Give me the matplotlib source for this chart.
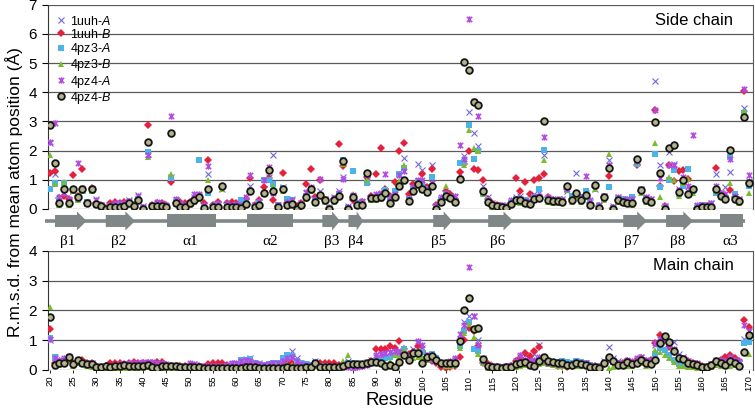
import numpy as np
import matplotlib.pyplot as plt
from matplotlib.path import Path
from matplotlib.patches import Polygon, Rectangle

plt.rcParams['font.family'] = ['Liberation Sans', 'DejaVu Sans']
plt.rcParams['mathtext.fontset'] = 'custom'
plt.rcParams['mathtext.rm'] = 'Liberation Sans'
plt.rcParams['mathtext.it'] = 'Liberation Sans:italic'

residues = np.arange(20, 171)

# ---- side chain r.m.s.d. (residues 20..170) ----
side_1uuh_A = [2.26, 1.20, 0.30, 0.55, 0.30, 0.60, 0.45, 0.65, 0.25, 0.70,
               0.35, 0.15, 0.05, 0.10, 0.12, 0.15, 0.20, 0.30, 0.15, 0.48,
               0.10, 1.90, 0.12, 0.15, 0.12, 0.10, 1.10, 0.30, 0.15, 0.10,
               0.22, 0.40, 0.45, 0.10, 1.20, 0.10, 0.15, 0.70, 0.15, 0.12,
               0.15, 0.10, 0.30, 0.80, 0.12, 0.25, 0.70, 1.10, 1.84, 0.15,
               0.75, 0.30, 0.35, 0.05, 0.20, 0.55, 0.70, 0.30, 0.60, 0.35,
               0.05, 0.40, 0.60, 1.10, 0.10, 0.45, 0.25, 0.25, 0.95, 0.40,
               0.45, 0.50, 0.60, 0.35, 0.55, 1.20, 1.76, 0.40, 0.80, 1.55,
               1.34, 0.80, 1.50, 0.10, 0.35, 0.55, 0.45, 0.40, 1.20, 1.80,
               3.32, 2.62, 2.15, 0.78, 0.40, 0.20, 0.15, 0.12, 0.10, 0.25,
               0.40, 0.45, 0.35, 0.30, 0.50, 0.55, 1.85, 0.35, 0.30, 0.35,
               0.35, 0.60, 0.40, 1.22, 0.35, 0.55, 0.25, 0.70, 0.15, 0.45,
               1.69, 0.10, 0.40, 0.35, 0.30, 0.35, 1.60, 0.70, 0.40, 0.35,
               4.40, 1.50, 0.10, 1.95, 1.54, 0.70, 0.90, 0.60, 0.70, 0.10,
               0.15, 0.12, 0.20, 1.20, 0.55, 0.74, 1.27, 0.40, 0.35, 3.45, 0.95]
side_1uuh_B = [1.22, 1.30, 0.36, 0.45, 0.35, 1.15, 0.45, 1.38, 0.20, 0.72,
               0.20, 0.12, 0.05, 0.20, 0.25, 0.20, 0.25, 0.25, 0.12, 0.35,
               0.05, 2.87, 0.15, 0.20, 0.20, 0.15, 0.93, 0.20, 0.25, 0.22,
               0.25, 0.35, 0.38, 0.20, 1.67, 0.15, 0.25, 0.75, 0.22, 0.25,
               0.20, 0.15, 0.35, 1.05, 0.15, 0.30, 0.75, 1.05, 0.30, 0.10,
               1.24, 0.20, 0.25, 0.10, 0.20, 0.85, 1.38, 0.40, 0.99, 0.30,
               0.05, 0.35, 2.24, 1.47, 0.05, 0.30, 0.20, 0.25, 1.10, 0.45,
               1.20, 2.10, 0.70, 0.45, 0.93, 2.00, 2.27, 0.50, 0.85, 0.90,
               1.19, 0.75, 1.38, 0.15, 0.30, 0.60, 0.50, 0.35, 1.27, 1.55,
               2.00, 1.38, 1.35, 1.00, 0.35, 0.20, 0.12, 0.10, 0.08, 0.20,
               1.07, 0.60, 0.93, 0.50, 0.99, 1.05, 1.20, 0.40, 0.30, 0.30,
               0.30, 0.70, 0.35, 0.50, 0.30, 0.45, 0.20, 0.75, 0.10, 0.40,
               1.12, 0.05, 0.30, 0.30, 0.25, 0.25, 1.50, 0.60, 0.35, 0.30,
               3.40, 0.80, 0.10, 1.50, 0.95, 1.30, 1.35, 1.04, 0.60, 0.05,
               0.10, 0.10, 0.15, 1.40, 0.50, 0.45, 0.65, 0.40, 0.30, 4.05, 0.90]
side_4pz3_A = [0.70, 0.90, 0.30, 0.88, 0.20, 0.62, 0.35, 0.62, 0.25, 0.62,
               0.15, 0.08, 0.02, 0.10, 0.10, 0.12, 0.15, 0.25, 0.18, 0.35,
               0.05, 1.95, 0.10, 0.12, 0.10, 0.10, 1.05, 0.25, 0.12, 0.10,
               0.20, 0.25, 1.67, 0.08, 0.55, 0.10, 0.12, 0.75, 0.10, 0.10,
               0.12, 0.30, 0.25, 0.60, 0.10, 0.20, 1.00, 1.00, 0.85, 0.12,
               0.72, 0.35, 0.32, 0.03, 0.15, 0.45, 0.65, 0.30, 0.45, 0.28,
               0.02, 0.32, 0.50, 1.67, 0.05, 1.30, 0.20, 0.18, 0.90, 0.30,
               0.38, 0.45, 0.65, 0.30, 0.60, 1.20, 1.39, 0.35, 0.70, 0.95,
               0.85, 0.70, 1.10, 0.05, 0.30, 0.50, 0.40, 0.30, 1.56, 1.60,
               2.87, 1.73, 2.00, 0.55, 0.30, 0.15, 0.10, 0.08, 0.06, 0.20,
               0.35, 0.25, 0.30, 0.25, 0.40, 0.70, 2.03, 0.35, 0.30, 0.30,
               0.30, 0.70, 0.45, 0.50, 0.40, 0.60, 0.20, 0.80, 0.10, 0.35,
               0.75, 0.05, 0.35, 0.35, 0.30, 0.40, 1.55, 0.65, 0.35, 0.30,
               1.90, 0.75, 0.05, 1.00, 1.33, 0.50, 0.80, 1.38, 0.60, 0.05,
               0.12, 0.10, 0.15, 0.55, 0.50, 0.40, 1.78, 0.50, 0.25, 3.30, 0.80]
side_4pz3_B = [1.84, 0.85, 0.15, 0.92, 0.15, 0.60, 0.30, 0.60, 0.18, 0.60,
               0.12, 0.05, 0.02, 0.05, 0.05, 0.08, 0.10, 0.20, 0.08, 0.28,
               0.02, 1.78, 0.08, 0.08, 0.08, 0.05, 1.20, 0.18, 0.06, 0.06,
               0.15, 0.25, 0.35, 0.05, 0.99, 0.05, 0.06, 0.70, 0.05, 0.06,
               0.05, 0.05, 0.12, 0.65, 0.05, 0.10, 0.50, 1.40, 0.78, 0.06,
               0.60, 0.10, 0.12, 0.02, 0.10, 0.35, 0.60, 0.20, 0.45, 0.25,
               0.01, 0.25, 0.40, 1.55, 0.02, 0.50, 0.10, 0.12, 1.00, 0.30,
               0.30, 0.35, 0.50, 0.20, 0.45, 0.95, 1.50, 0.25, 0.60, 0.80,
               0.65, 0.55, 0.80, 0.10, 0.25, 0.80, 0.35, 0.20, 1.00, 1.50,
               2.72, 2.10, 2.00, 0.50, 0.20, 0.08, 0.05, 0.04, 0.03, 0.12,
               0.25, 0.20, 0.18, 0.15, 0.30, 0.35, 1.67, 0.25, 0.22, 0.20,
               0.20, 0.65, 0.25, 0.45, 0.25, 0.40, 0.12, 0.70, 0.05, 0.30,
               1.89, 0.02, 0.25, 0.20, 0.18, 0.15, 1.60, 0.55, 0.25, 0.20,
               2.27, 0.40, 0.02, 1.10, 1.00, 0.45, 0.90, 1.03, 0.55, 0.02,
               0.05, 0.05, 0.08, 0.60, 0.40, 0.30, 0.90, 0.35, 0.20, 3.37, 0.55]
side_4pz4_A = [2.30, 2.96, 0.40, 0.55, 0.35, 0.70, 1.56, 0.72, 0.25, 0.72,
               0.30, 0.12, 0.05, 0.12, 0.20, 0.20, 0.22, 0.28, 0.15, 0.45,
               0.08, 1.85, 0.15, 0.25, 0.20, 0.12, 3.20, 0.35, 0.20, 0.15,
               0.25, 0.53, 0.50, 0.12, 1.47, 0.15, 0.20, 0.78, 0.20, 0.15,
               0.18, 0.12, 0.40, 1.16, 0.15, 0.28, 0.99, 1.44, 0.55, 0.12,
               0.70, 0.25, 0.30, 0.06, 0.22, 0.59, 0.75, 0.35, 1.03, 0.35,
               0.05, 0.38, 0.55, 1.03, 0.08, 0.48, 0.22, 0.28, 1.15, 0.40,
               0.50, 0.55, 1.20, 0.40, 0.50, 1.15, 1.30, 0.35, 0.75, 1.00,
               1.00, 0.70, 0.90, 0.12, 0.40, 0.55, 0.40, 0.45, 2.18, 1.70,
               6.52, 3.70, 3.17, 0.60, 0.30, 0.18, 0.12, 0.15, 0.10, 0.30,
               0.35, 0.35, 0.28, 0.25, 0.40, 0.45, 2.48, 0.40, 0.35, 0.30,
               0.30, 0.70, 0.35, 0.55, 0.40, 1.12, 0.30, 0.78, 0.15, 0.45,
               1.50, 0.08, 0.40, 0.30, 0.35, 0.35, 1.65, 0.70, 0.40, 0.35,
               3.40, 1.05, 0.10, 1.50, 1.50, 0.65, 1.10, 0.80, 2.53, 0.12,
               0.15, 0.15, 0.20, 0.80, 0.55, 0.50, 1.70, 0.45, 0.35, 4.10, 1.15]
side_4pz4_B = [2.87, 1.56, 0.22, 0.70, 0.22, 0.68, 0.40, 0.70, 0.22, 0.68,
               0.17, 0.10, 0.00, 0.08, 0.08, 0.08, 0.10, 0.22, 0.10, 0.30,
               0.00, 2.28, 0.10, 0.10, 0.10, 0.08, 2.60, 0.22, 0.08, 0.08,
               0.19, 0.30, 0.40, 0.05, 0.68, 0.08, 0.08, 0.80, 0.08, 0.08,
               0.08, 0.03, 0.17, 0.63, 0.08, 0.14, 0.55, 1.33, 0.60, 0.08,
               0.68, 0.14, 0.17, 0.00, 0.14, 0.40, 0.68, 0.25, 0.48, 0.30,
               0.00, 0.30, 0.45, 1.65, 0.00, 0.40, 0.14, 0.14, 1.24, 0.36,
               0.36, 0.40, 0.55, 0.22, 0.40, 0.78, 0.99, 0.28, 0.63, 0.85,
               0.70, 0.59, 0.78, 0.00, 0.25, 0.45, 0.36, 0.25, 1.04, 5.03,
               4.77, 3.66, 3.55, 0.63, 0.25, 0.14, 0.10, 0.08, 0.05, 0.17,
               0.30, 0.30, 0.22, 0.17, 0.33, 0.36, 3.00, 0.30, 0.28, 0.28,
               0.25, 0.78, 0.30, 0.55, 0.30, 0.48, 0.14, 0.82, 0.05, 0.40,
               1.42, 0.00, 0.30, 0.25, 0.22, 0.22, 1.73, 0.65, 0.30, 0.25,
               2.98, 1.24, 0.00, 2.10, 2.18, 0.59, 1.00, 0.53, 0.67, 0.00,
               0.08, 0.08, 0.08, 0.67, 0.45, 0.33, 2.01, 0.33, 0.28, 3.15, 0.88]

# ---- main chain r.m.s.d. ----
main_1uuh_A = [1.02, 0.45, 0.30, 0.35, 0.45, 0.25, 0.35, 0.28, 0.22, 0.22,
               0.15, 0.12, 0.15, 0.14, 0.16, 0.18, 0.20, 0.18, 0.20, 0.22,
               0.22, 0.24, 0.18, 0.16, 0.20, 0.18, 0.15, 0.16, 0.14, 0.15,
               0.18, 0.20, 0.15, 0.12, 0.12, 0.13, 0.14, 0.16, 0.18, 0.20,
               0.25, 0.35, 0.38, 0.40, 0.25, 0.22, 0.20, 0.18, 0.20, 0.22,
               0.35, 0.45, 0.65, 0.40, 0.25, 0.20, 0.18, 0.30, 0.15, 0.14,
               0.12, 0.12, 0.14, 0.18, 0.30, 0.25, 0.22, 0.22, 0.28, 0.32,
               0.45, 0.55, 0.60, 0.62, 0.55, 0.65, 0.55, 0.45, 0.70, 0.92,
               0.75, 0.55, 0.45, 0.35, 0.28, 0.22, 0.25, 0.35, 1.05, 1.60,
               1.80, 1.80, 1.00, 0.40, 0.20, 0.14, 0.12, 0.10, 0.12, 0.15,
               0.30, 0.45, 0.50, 0.40, 0.55, 0.84, 0.40, 0.30, 0.25, 0.25,
               0.22, 0.20, 0.22, 0.30, 0.25, 0.22, 0.15, 0.14, 0.12, 0.30,
               0.76, 0.40, 0.30, 0.25, 0.30, 0.25, 0.35, 0.45, 0.30, 0.30,
               0.85, 1.12, 0.95, 0.80, 0.95, 0.55, 0.45, 0.30, 0.25, 0.20,
               0.12, 0.12, 0.20, 0.35, 0.30, 0.25, 0.45, 0.30, 0.25, 1.05, 1.30]
main_1uuh_B = [1.37, 0.25, 0.25, 0.30, 0.40, 0.25, 0.30, 0.35, 0.25, 0.22,
               0.12, 0.10, 0.15, 0.22, 0.24, 0.22, 0.20, 0.25, 0.28, 0.25,
               0.22, 0.25, 0.22, 0.28, 0.28, 0.18, 0.15, 0.14, 0.12, 0.12,
               0.14, 0.15, 0.12, 0.10, 0.20, 0.24, 0.25, 0.22, 0.18, 0.15,
               0.15, 0.20, 0.22, 0.25, 0.20, 0.18, 0.15, 0.12, 0.12, 0.14,
               0.15, 0.25, 0.22, 0.18, 0.12, 0.10, 0.10, 0.20, 0.22, 0.25,
               0.24, 0.22, 0.18, 0.20, 0.20, 0.15, 0.12, 0.12, 0.20, 0.30,
               0.70, 0.72, 0.72, 0.80, 0.75, 0.99, 0.70, 0.55, 0.60, 0.80,
               0.65, 0.45, 0.30, 0.22, 0.10, 0.08, 0.10, 0.15, 0.42, 1.00,
               1.40, 1.30, 0.80, 0.25, 0.20, 0.15, 0.10, 0.08, 0.10, 0.15,
               0.30, 0.40, 0.58, 0.47, 0.65, 0.78, 0.40, 0.30, 0.22, 0.15,
               0.12, 0.10, 0.12, 0.20, 0.22, 0.20, 0.15, 0.12, 0.10, 0.20,
               0.40, 0.30, 0.20, 0.22, 0.30, 0.25, 0.35, 0.40, 0.30, 0.35,
               0.90, 1.17, 1.10, 0.78, 0.60, 0.40, 0.38, 0.30, 0.25, 0.20,
               0.12, 0.10, 0.18, 0.30, 0.32, 0.45, 0.50, 0.40, 0.30, 1.67, 1.45]
main_4pz3_A = [1.07, 0.45, 0.25, 0.28, 0.40, 0.20, 0.22, 0.20, 0.18, 0.15,
               0.08, 0.06, 0.08, 0.08, 0.10, 0.10, 0.12, 0.10, 0.10, 0.12,
               0.12, 0.15, 0.12, 0.10, 0.12, 0.12, 0.10, 0.10, 0.08, 0.08,
               0.10, 0.10, 0.08, 0.06, 0.06, 0.06, 0.07, 0.08, 0.10, 0.12,
               0.20, 0.33, 0.35, 0.38, 0.22, 0.20, 0.18, 0.20, 0.22, 0.25,
               0.40, 0.52, 0.47, 0.30, 0.22, 0.20, 0.18, 0.25, 0.12, 0.12,
               0.10, 0.10, 0.10, 0.12, 0.25, 0.22, 0.18, 0.15, 0.20, 0.22,
               0.30, 0.35, 0.40, 0.45, 0.50, 0.60, 0.72, 0.45, 0.55, 0.60,
               0.62, 0.45, 0.53, 0.40, 0.25, 0.18, 0.15, 0.20, 0.80, 1.30,
               1.62, 0.72, 0.65, 0.30, 0.10, 0.06, 0.05, 0.04, 0.06, 0.10,
               0.15, 0.20, 0.25, 0.20, 0.25, 0.35, 0.40, 0.30, 0.25, 0.28,
               0.30, 0.28, 0.25, 0.30, 0.28, 0.25, 0.18, 0.12, 0.08, 0.20,
               0.35, 0.28, 0.20, 0.18, 0.22, 0.20, 0.25, 0.30, 0.22, 0.25,
               0.55, 0.75, 0.67, 0.50, 0.35, 0.20, 0.15, 0.12, 0.12, 0.12,
               0.08, 0.08, 0.15, 0.25, 0.25, 0.22, 0.30, 0.25, 0.28, 0.90, 0.95]
main_4pz3_B = [2.13, 0.20, 0.18, 0.22, 0.35, 0.15, 0.25, 0.20, 0.12, 0.10,
               0.06, 0.05, 0.06, 0.05, 0.06, 0.06, 0.08, 0.06, 0.06, 0.08,
               0.08, 0.10, 0.06, 0.05, 0.06, 0.06, 0.05, 0.05, 0.05, 0.05,
               0.06, 0.06, 0.05, 0.04, 0.04, 0.04, 0.04, 0.05, 0.05, 0.06,
               0.08, 0.10, 0.12, 0.15, 0.10, 0.08, 0.08, 0.08, 0.10, 0.10,
               0.12, 0.20, 0.18, 0.12, 0.08, 0.08, 0.08, 0.12, 0.08, 0.08,
               0.10, 0.12, 0.15, 0.30, 0.50, 0.25, 0.18, 0.15, 0.20, 0.22,
               0.25, 0.25, 0.22, 0.30, 0.50, 0.45, 0.67, 0.35, 0.40, 0.45,
               0.45, 0.35, 0.38, 0.42, 0.20, 0.15, 0.15, 0.18, 0.75, 1.25,
               1.55, 1.10, 0.55, 0.22, 0.08, 0.05, 0.04, 0.04, 0.05, 0.08,
               0.10, 0.15, 0.18, 0.12, 0.12, 0.20, 0.25, 0.20, 0.18, 0.15,
               0.15, 0.12, 0.12, 0.15, 0.12, 0.12, 0.10, 0.18, 0.10, 0.20,
               0.08, 0.10, 0.12, 0.12, 0.15, 0.12, 0.20, 0.22, 0.15, 0.18,
               0.67, 0.60, 0.50, 0.40, 0.28, 0.15, 0.12, 0.10, 0.10, 0.08,
               0.05, 0.05, 0.10, 0.18, 0.15, 0.12, 0.15, 0.18, 0.20, 0.60, 0.55]
main_4pz4_A = [1.05, 0.40, 0.35, 0.40, 0.48, 0.22, 0.30, 0.25, 0.22, 0.20,
               0.12, 0.10, 0.12, 0.15, 0.18, 0.20, 0.20, 0.22, 0.25, 0.25,
               0.28, 0.28, 0.26, 0.25, 0.24, 0.20, 0.15, 0.15, 0.12, 0.12,
               0.22, 0.20, 0.15, 0.12, 0.12, 0.12, 0.12, 0.14, 0.18, 0.22,
               0.25, 0.30, 0.32, 0.30, 0.22, 0.20, 0.18, 0.20, 0.22, 0.25,
               0.30, 0.40, 0.45, 0.30, 0.20, 0.18, 0.15, 0.25, 0.12, 0.10,
               0.10, 0.10, 0.12, 0.15, 0.10, 0.08, 0.10, 0.12, 0.18, 0.25,
               0.50, 0.55, 0.58, 0.62, 0.65, 0.60, 0.50, 0.40, 0.60, 0.99,
               0.85, 0.50, 0.35, 0.30, 0.25, 0.22, 0.30, 0.39, 1.20, 1.52,
               3.47, 1.80, 0.85, 0.30, 0.15, 0.12, 0.10, 0.10, 0.12, 0.18,
               0.30, 0.50, 0.35, 0.30, 0.35, 0.45, 0.35, 0.25, 0.22, 0.20,
               0.20, 0.18, 0.20, 0.28, 0.25, 0.22, 0.18, 0.15, 0.12, 0.25,
               0.45, 0.35, 0.25, 0.25, 0.35, 0.30, 0.40, 0.45, 0.35, 0.35,
               0.90, 1.05, 1.00, 0.85, 0.70, 0.45, 0.40, 0.30, 0.25, 0.22,
               0.12, 0.12, 0.20, 0.30, 0.35, 0.30, 0.45, 0.35, 0.30, 1.50, 1.30]
main_4pz4_B = [1.79, 0.17, 0.22, 0.24, 0.44, 0.20, 0.34, 0.24, 0.20, 0.20,
               0.11, 0.09, 0.12, 0.11, 0.12, 0.13, 0.17, 0.12, 0.13, 0.13,
               0.14, 0.17, 0.10, 0.06, 0.14, 0.13, 0.12, 0.12, 0.10, 0.10,
               0.11, 0.11, 0.09, 0.07, 0.06, 0.06, 0.06, 0.07, 0.06, 0.06,
               0.05, 0.06, 0.10, 0.11, 0.09, 0.08, 0.07, 0.07, 0.07, 0.08,
               0.08, 0.09, 0.08, 0.08, 0.08, 0.09, 0.09, 0.22, 0.09, 0.09,
               0.09, 0.09, 0.10, 0.12, 0.20, 0.20, 0.20, 0.20, 0.24, 0.28,
               0.28, 0.24, 0.13, 0.17, 0.11, 0.28, 0.50, 0.34, 0.58, 0.58,
               0.24, 0.42, 0.47, 0.34, 0.24, 0.22, 0.22, 0.22, 0.99, 2.00,
               2.43, 1.37, 1.40, 0.36, 0.13, 0.11, 0.09, 0.05, 0.09, 0.11,
               0.20, 0.24, 0.28, 0.17, 0.13, 0.31, 0.45, 0.31, 0.28, 0.22,
               0.22, 0.17, 0.17, 0.24, 0.20, 0.17, 0.11, 0.11, 0.05, 0.22,
               0.45, 0.31, 0.17, 0.17, 0.28, 0.20, 0.24, 0.34, 0.22, 0.20,
               0.34, 0.90, 1.14, 0.95, 0.64, 0.39, 0.36, 0.22, 0.20, 0.17,
               0.09, 0.09, 0.17, 0.31, 0.24, 0.17, 0.31, 0.24, 0.13, 0.62, 1.17]

# secondary structure elements along the sequence
ss_labels = ['β1', 'β2', 'α1', 'α2', 'β3', 'β4', 'β5', 'β6', 'β7', 'β8', 'α3']
ss_start = [21.1, 32.0, 45.2, 62.4, 78.5, 84.1, 102.3, 114.1, 143.1, 152.3, 163.9]
ss_end = [27.9, 38.3, 55.7, 72.3, 82.3, 87.3, 106.4, 119.5, 148.2, 158.1, 168.9]
ss_kind = ['E', 'E', 'H', 'H', 'E', 'E', 'E', 'E', 'E', 'E', 'H']
ss_labx = [23.9, 34.7, 50.1, 67.3, 80.5, 85.7, 103.5, 116.2, 145.0, 154.7, 166.1]

names = ['1uuh-$\\it{A}$', '1uuh-$\\it{B}$', '4pz3-$\\it{A}$',
         '4pz3-$\\it{B}$', '4pz4-$\\it{A}$', '4pz4-$\\it{B}$']
side = [side_1uuh_A, side_1uuh_B, side_4pz3_A, side_4pz3_B, side_4pz4_A, side_4pz4_B]
main = [main_1uuh_A, main_1uuh_B, main_4pz3_A, main_4pz3_B, main_4pz4_A, main_4pz4_B]

star = Path([(-1, -1), (1, 1), (-1, 1), (1, -1), (0, -1.2), (0, 1.2)],
            [Path.MOVETO, Path.LINETO, Path.MOVETO, Path.LINETO, Path.MOVETO, Path.LINETO])
styles = [dict(marker='x', ms=4.2, mew=0.8, color='#7468dc'),
          dict(marker='D', ms=3.6, mew=0, color='#e4203c'),
          dict(marker='s', ms=4.0, mew=0, color='#4bb2ea'),
          dict(marker='^', ms=4.6, mew=0, color='#7bbb2c'),
          dict(marker=star, ms=4.6, mew=1.1, color='#b44ae4'),
          dict(marker='o', ms=4.8, mew=1.3, mfc='#b4b48c', mec='#151515')]

fig = plt.figure(figsize=(7.55, 4.09), dpi=100)
ax1 = fig.add_axes([0.0636, 0.489, 0.934, 0.4995])
ax2 = fig.add_axes([0.0636, 0.0954, 0.934, 0.291])
axs = fig.add_axes([0.0636, 0.3888, 0.934, 0.0978])

grid_c = '#5a5a5a'
for ax, data, top in [(ax1, side, 7), (ax2, main, 4)]:
    for y in range(0, top + 1):
        ax.axhline(y, color=grid_c, lw=0.9, zorder=1)
    for vals, st, nm in zip(data, styles, names):
        ax.plot(residues, vals, ls='none', label=nm, zorder=3, **st)
    ax.set_xlim(19.6, 171.0)
    ax.set_ylim(0, top)
    ax.set_yticks(range(0, top + 1))
    ax.tick_params(axis='y', labelsize=11, length=4, width=0.8, pad=4)
    for s in ['top', 'bottom']:
        ax.spines[s].set_visible(False)
    ax.spines['right'].set_color(grid_c)
    ax.spines['left'].set_color('#333333')

ax1.set_xticks([])
ax2.set_xticks(range(20, 171, 5))
ax2.set_xticklabels([str(t) for t in range(20, 171, 5)], rotation=90, fontsize=6.8)
ax2.tick_params(axis='x', length=2.5, width=0.6, pad=1.5)

ax1.text(0.972, 0.925, 'Side chain', transform=ax1.transAxes, ha='right', va='center', fontsize=12)
ax2.text(0.972, 0.88, 'Main chain', transform=ax2.transAxes, ha='right', va='center', fontsize=12)

ax1.legend(loc='upper left', bbox_to_anchor=(0.012, 0.952), frameon=False, fontsize=9,
           handlelength=0.7, handletextpad=0.35, labelspacing=0.02, borderpad=0,
           borderaxespad=0)

# secondary structure strip
ss_color = '#7f8787'
axs.set_xlim(19.6, 171.0)
axs.set_ylim(0, 40)
axs.axis('off')
axs.plot([18.9, 169.3], [29, 29], color=ss_color, lw=2.6, solid_capstyle='butt', clip_on=False)
for lab, x0, x1, kind, lx in zip(ss_labels, ss_start, ss_end, ss_kind, ss_labx):
    if kind == 'H':
        axs.add_patch(Rectangle((x0, 22.5), x1 - x0, 13, color=ss_color, lw=0))
    else:
        hl = min(2.1, (x1 - x0) * 0.45)
        axs.add_patch(Polygon([(x0, 23), (x1 - hl, 23), (x1 - hl, 19.5), (x1, 29),
                               (x1 - hl, 38.5), (x1 - hl, 35), (x0, 35)],
                              closed=True, color=ss_color, lw=0))
    axs.text(lx, 8, lab, ha='center', va='center', fontsize=11,
             family=['Liberation Serif', 'DejaVu Serif'])

fig.text(0.019, 0.53, 'R.m.s.d. from mean atom position (Å)', rotation=90,
         ha='center', va='center', fontsize=12.5)
fig.text(0.53, 0.02, 'Residue', ha='center', va='center', fontsize=13.5)

fig.savefig('out.png', dpi=100)
